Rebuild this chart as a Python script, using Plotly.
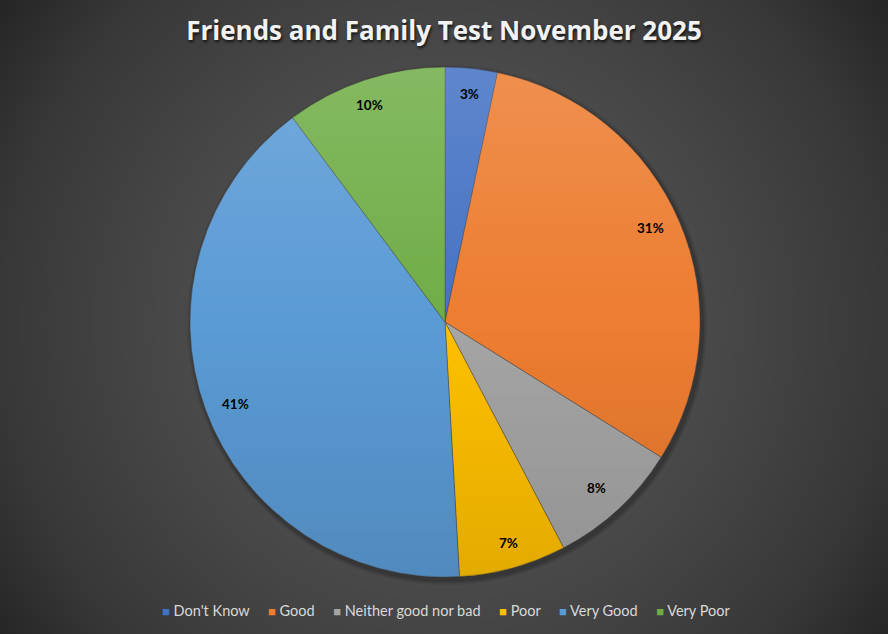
import math, zlib, struct, base64
import numpy as np
import plotly.graph_objects as go

# ---------------- data ----------------
categories = ["Don't Know", "Good", "Neither good nor bad", "Poor", "Very Good", "Very Poor"]
values = [3.3, 30.6, 8.4, 6.8, 40.7, 10.2]
colors = ["#4472C4", "#ED7D31", "#A5A5A5", "#FFC000", "#5B9BD5", "#70AD47"]
title_text = "Friends and Family Test November 2025"

W, H = 888, 634
dom_x = [0.2140, 0.7883]
dom_y = [0.0899, 0.8943]

# pie geometry (how plotly lays out the pie inside its domain)
box_w = W * (dom_x[1] - dom_x[0])
box_h = H * (dom_y[1] - dom_y[0])
R = min(box_w, box_h) / 2
cx = W * (dom_x[0] + dom_x[1]) / 2
cy = H - H * (dom_y[0] + dom_y[1]) / 2   # from top


def chunk(t, d):
    return struct.pack('>I', len(d)) + t + d + struct.pack('>I', zlib.crc32(t + d) & 0xffffffff)


def make_png(arr, ctype):
    h, w = arr.shape[:2]
    raw = b''.join(b'\x00' + arr[i].tobytes() for i in range(h))
    ihdr = struct.pack('>IIBBBBB', w, h, 8, ctype, 0, 0, 0)
    png = b'\x89PNG\r\n\x1a\n' + chunk(b'IHDR', ihdr) + chunk(b'IDAT', zlib.compress(raw, 9)) + chunk(b'IEND', b'')
    return 'data:image/png;base64,' + base64.b64encode(png).decode()


# radial background gradient
yy, xx = np.mgrid[0:H, 0:W]
rr = np.sqrt((xx - W / 2) ** 2 + (yy - cy) ** 2)
bg = np.interp(rr, [0, 255, 312, 445, 545], [90, 74, 69, 56, 38]).astype(np.uint8)
bg_src = make_png(bg, 0)

# subtle vertical shading over the pie
S = int(round(2 * R))
py, px = np.mgrid[0:S, 0:S]
dist = np.sqrt((px + 0.5 - S / 2) ** 2 + (py + 0.5 - S / 2) ** 2)
edge = np.clip(S / 2 - dist, 0, 1)
t = (py + 0.5 - S / 2) / (S / 2)
ov = np.zeros((S, S, 4), dtype=np.uint8)
top = t < 0
ov[..., 0] = np.where(top, 255, 0)
ov[..., 1] = np.where(top, 255, 0)
ov[..., 2] = np.where(top, 255, 0)
alpha = np.where(top, 0.15 * (-t), 0.11 * t) * edge
ov[..., 3] = (np.clip(alpha, 0, 1) * 255).astype(np.uint8)
ov_src = make_png(ov, 6)

fig = go.Figure(go.Pie(
    labels=categories,
    values=values,
    marker=dict(colors=colors, line=dict(color="rgba(70,70,70,0.55)", width=0.8)),
    sort=False,
    direction="clockwise",
    rotation=0,
    textinfo="none",
    hoverinfo="label+percent",
    domain=dict(x=dom_x, y=dom_y),
    showlegend=False,
))

# data labels near the outer edge of each slice
total = sum(values)
annotations = []
cum = 0.0
for v in values:
    mid = (cum + v / 2) / total * 2 * math.pi
    cum += v
    lr = 0.94 * R
    lx = cx + lr * math.sin(mid)
    ly = cy - lr * math.cos(mid)
    annotations.append(dict(
        x=lx / W, y=1 - ly / H, xref="paper", yref="paper",
        text=f"{round(v / total * 100)}%", showarrow=False,
        font=dict(family="Lato, Open Sans, sans-serif", size=13.5, color="#000000", weight="bold"),
    ))

# legend line
parts = []
for c, name in zip(colors, categories):
    parts.append(f"<span style='color:{c};font-size:13px'>■</span> {name}")
legend_text = "&nbsp;&nbsp;&nbsp;&nbsp;&nbsp;".join(parts)
annotations.append(dict(
    x=0.5025, y=1 - 610 / H, xref="paper", yref="paper", text=legend_text, showarrow=False,
    font=dict(family="Lato, Open Sans, sans-serif", size=14.5, color="#D9D9D9"),
    xanchor="center", yanchor="middle",
))

# soft shadow circles under the pie
shapes = []
for k, op in [(5, 0.06), (3.5, 0.08), (2, 0.12)]:
    r2 = R + k
    ox, oy = cx + 2, cy + 3
    shapes.append(dict(
        type="circle", xref="paper", yref="paper", layer="below",
        x0=(ox - r2) / W, x1=(ox + r2) / W, y0=1 - (oy + r2) / H, y1=1 - (oy - r2) / H,
        fillcolor=f"rgba(0,0,0,{op})", line=dict(width=0),
    ))

fig.update_layout(
    width=W, height=H,
    margin=dict(l=0, r=0, t=0, b=0),
    paper_bgcolor="#3c3c3c",
    title=dict(
        text=title_text, x=0.5, xanchor="center", y=1 - 31 / H, yanchor="middle",
        font=dict(family="Open Sans, Lato, sans-serif", size=26, color="#F2F2F2", weight="bold",
                  shadow="1px 2px 3px rgba(0,0,0,0.75)"),
    ),
    images=[
        dict(source=bg_src, xref="paper", yref="paper", x=0, y=1, sizex=1, sizey=1,
             sizing="stretch", layer="below", xanchor="left", yanchor="top"),
        dict(source=ov_src, xref="paper", yref="paper", x=(cx - S / 2) / W, y=1 - (cy - S / 2) / H,
             sizex=S / W, sizey=S / H, sizing="stretch", layer="above", xanchor="left", yanchor="top"),
    ],
    shapes=shapes,
    annotations=annotations,
)

fig.write_html(
    "out.html",
    config={"displayModeBar": False},
    post_script="document.body.style.margin='0';document.body.style.overflow='hidden';",
)
